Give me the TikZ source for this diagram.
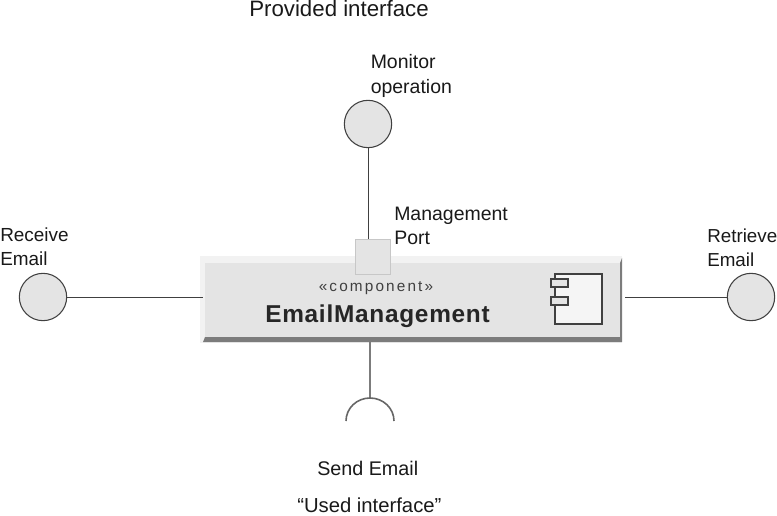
\documentclass[tikz,border=0pt]{standalone}
\usepackage{fontspec}
\setmainfont{Liberation Sans}
\newfontfamily\boxfont[LetterSpace=3]{Liberation Sans}
\newfontfamily\stereofont[LetterSpace=14]{Liberation Sans}
\definecolor{boxgray}{HTML}{E4E4E4}
\definecolor{edgegray}{HTML}{7C7C7C}
\tikzset{
  iface/.style={circle,draw=black!75,fill=boxgray,line width=.8pt,minimum size=35.5pt,inner sep=0pt},
  lbl/.style={inner sep=0pt,align=left,anchor=west,font=\fontsize{#1}{18.3}\selectfont,text=black!90},
  wire/.style={draw=black!75,line width=.7pt},
}
\begin{document}
\begin{tikzpicture}[x=.75pt,y=-.75pt]
	\useasboundingbox (0,0) rectangle (777,516);

	% component body
	\fill[black!5] (200,256) rectangle (622,343);
	\node[fill=boxgray,minimum width=312pt,minimum height=55.5pt,inner sep=0pt] (emailBox) at (413,300) {};
	\fill[edgegray] (203,342)--(622,342)--(622,258)--(620,263)--(620,337)--(205,337)--cycle;

	% port
	\node[draw=black!22,fill=boxgray,minimum size=26.5pt,inner sep=0pt] (mgmtPort) at (373,256.5) {};

	% component icon
	\draw[black!75,fill=white!96!black,line width=.9pt] (555,274) rectangle (602,324);
	\draw[black!75,fill=boxgray,line width=.9pt] (551,279) rectangle (568,287);
	\draw[black!75,fill=boxgray,line width=.9pt] (551,297) rectangle (568,305);

	\node[inner sep=0pt,text=black!75] (stereoLbl) at (376,288) {\stereofont\fontsize{11.5}{12}\selectfont «component»};
	\node[inner sep=0pt,text=black!85] (nameLbl) at (377.5,316) {\boxfont\bfseries\fontsize{18.3}{19}\selectfont EmailManagement};

	% interfaces
	\node[iface] (receiveIf) at (43,297) {};
	\node[iface] (monitorIf) at (368,124) {};
	\node[iface] (retrieveIf) at (751,297) {};
	\coordinate (sendTop) at (370,398);
	\coordinate (receiveEnd) at (203,297);
	\coordinate (retrieveEnd) at (625,297);

	\draw[wire] (receiveIf)--(receiveEnd);
	\draw[wire] (retrieveIf)--(retrieveEnd);
	\draw[wire] (monitorIf)--(monitorIf|-mgmtPort.north);
	\draw[edgegray,line width=1.9pt] (sendTop|-emailBox.south)--(sendTop);
	\draw[black!60,line width=1.2pt] (346,421) arc[start angle=180,end angle=0,x radius=24,y radius=-23];

	% labels
	\node[lbl=16.7] (providedLbl) at (249,9) {Provided interface};
	\node[lbl=14.6] (monitorLbl) at (370.5,76) {Monitor\\operation};
	\node[lbl=14.6] (mgmtLbl) at (394,226) {Management\\Port};
	\node[lbl=14.2] (receiveLbl) at (0,247) {Receive\\Email};
	\node[lbl=14.1] (retrieveLbl) at (707,248) {Retrieve\\Email};
	\node[lbl=14.8] (sendLbl) at (317,468) {Send Email};
	\node[lbl=15.2] (usedLbl) at (297,505.5) {“Used interface”};
\end{tikzpicture}
\end{document}
